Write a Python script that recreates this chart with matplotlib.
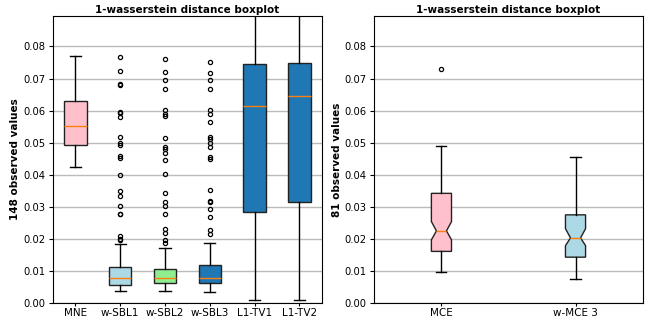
import matplotlib
matplotlib.use("Agg")
import matplotlib.pyplot as plt

# ---- left panel data (148 observed values) ----
left_labels = ["MNE", "w-SBL1", "w-SBL2", "w-SBL3", "L1-TV1", "L1-TV2"]
left_whislo = [0.0423, 0.0037, 0.0036, 0.0033, 0.0009, 0.0009]
left_q1 = [0.0492, 0.0056, 0.0062, 0.0063, 0.0283, 0.0316]
left_med = [0.0551, 0.0077, 0.0079, 0.0078, 0.0613, 0.0645]
left_q3 = [0.0630, 0.0111, 0.0106, 0.0118, 0.0744, 0.0750]
left_whishi = [0.0769, 0.0185, 0.0172, 0.0187, 0.1000, 0.1000]
fliers_mne = []
fliers_sbl1 = [0.0767, 0.0725, 0.0683, 0.0679, 0.0597, 0.0592, 0.0580, 0.0518,
               0.0499, 0.0494, 0.0458, 0.0453, 0.0399, 0.0350, 0.0335, 0.0304,
               0.0279, 0.0277, 0.0209, 0.0200, 0.0196]
fliers_sbl2 = [0.0760, 0.0721, 0.0695, 0.0667, 0.0601, 0.0589, 0.0584, 0.0516,
               0.0487, 0.0481, 0.0468, 0.0447, 0.0401, 0.0342, 0.0316, 0.0302,
               0.0279, 0.0230, 0.0217, 0.0198, 0.0188]
fliers_sbl3 = [0.0751, 0.0716, 0.0695, 0.0668, 0.0601, 0.0589, 0.0566, 0.0518,
               0.0510, 0.0499, 0.0485, 0.0456, 0.0450, 0.0352, 0.0317, 0.0315,
               0.0292, 0.0269, 0.0227, 0.0215]
fliers_tv1 = []
fliers_tv2 = []
left_fliers = [fliers_mne, fliers_sbl1, fliers_sbl2, fliers_sbl3, fliers_tv1, fliers_tv2]
left_colors = ["pink", "lightblue", "lightgreen", "#1f77b4", "#1f77b4", "#1f77b4"]

# ---- right panel data (81 observed values) ----
right_labels = ["MCE", "w-MCE 3"]
right_whislo = [0.0096, 0.0074]
right_q1 = [0.0161, 0.0143]
right_med = [0.0225, 0.0203]
right_q3 = [0.0342, 0.0275]
right_whishi = [0.0490, 0.0455]
right_cilo = [0.0197, 0.0179]
right_cihi = [0.0254, 0.0232]
right_fliers = [[0.0730], []]
right_colors = ["pink", "lightblue"]

title = "1-wasserstein distance boxplot"
yticks = [0.00, 0.01, 0.02, 0.03, 0.04, 0.05, 0.06, 0.07, 0.08]


def make_stats(labels, lo, q1, med, q3, hi, fl, cilo=None, cihi=None):
    stats = []
    for i in range(len(labels)):
        d = dict(label=labels[i], whislo=lo[i], q1=q1[i], med=med[i], q3=q3[i],
                 whishi=hi[i], fliers=fl[i])
        if cilo is not None:
            d["cilo"] = cilo[i]
            d["cihi"] = cihi[i]
        stats.append(d)
    return stats


fig = plt.figure(figsize=(6.54, 3.2), dpi=100)
ax1 = fig.add_axes([0.081, 0.053, 0.411, 0.897])
ax2 = fig.add_axes([0.5725, 0.053, 0.410, 0.897])

flierprops = dict(marker="o", markersize=3, markerfacecolor="none",
                  markeredgecolor="black", markeredgewidth=0.9)
medianprops = dict(color="#ff7f0e", linewidth=1.0)

s1 = make_stats(left_labels, left_whislo, left_q1, left_med, left_q3, left_whishi, left_fliers)
b1 = ax1.bxp(s1, patch_artist=True, widths=0.5, flierprops=flierprops,
             medianprops=medianprops)
for p, c in zip(b1["boxes"], left_colors):
    p.set_facecolor(c)
    p.set_edgecolor("#222222")

s2 = make_stats(right_labels, right_whislo, right_q1, right_med, right_q3, right_whishi,
                right_fliers, right_cilo, right_cihi)
b2 = ax2.bxp(s2, patch_artist=True, widths=0.15, shownotches=True,
             flierprops=flierprops, medianprops=medianprops)
for p, c in zip(b2["boxes"], right_colors):
    p.set_facecolor(c)
    p.set_edgecolor("#222222")

for ax, n in ((ax1, 148), (ax2, 81)):
    ax.set_ylim(0, 0.0895)
    ax.set_yticks(yticks)
    ax.set_yticklabels([f"{v:.2f}" for v in yticks])
    ax.yaxis.grid(True, color="#bbbbbb", linewidth=1.0, zorder=1)
    ax.set_axisbelow(True)
    ax.tick_params(axis="y", labelsize=7.2, length=3, pad=2.5)
    ax.tick_params(axis="x", labelsize=7.5, length=2, pad=1.6)
    ax.set_title(title, fontsize=7.5, fontweight="bold", pad=2)
    ax.set_ylabel(f"{n} observed values", fontsize=7.5, fontweight="bold", labelpad=2)

fig.savefig("out.png", dpi=100)
